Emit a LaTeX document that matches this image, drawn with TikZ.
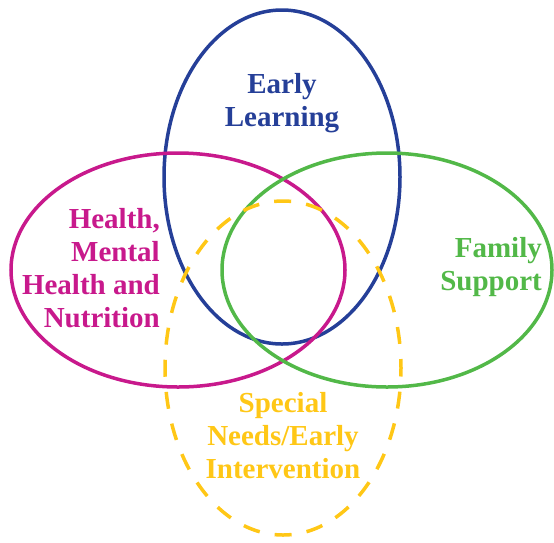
\documentclass[tikz,border=0pt]{standalone}
\usepackage{fontspec}
\setmainfont{Liberation Serif}
\definecolor{elblue}{HTML}{253F98}
\definecolor{hmag}{HTML}{C8198C}
\definecolor{fgreen}{HTML}{52B848}
\definecolor{syellow}{HTML}{FFC716}
\tikzset{
  ring/.style={line width=3.5pt},
  lbl/.style={inner sep=0pt, font=\fontsize{29}{33}\selectfont\bfseries},
}
\begin{document}
\begin{tikzpicture}[x=1pt,y=-1pt]
\useasboundingbox (0,0) rectangle (554,542);
\draw[ring, elblue] (282,177) ellipse [x radius=118, y radius=167];
\draw[ring, hmag] (178,270) ellipse [x radius=167, y radius=117];
\draw[ring, fgreen] (387,270) ellipse [x radius=165, y radius=117];
\draw[ring, syellow, dash pattern=on 17pt off 15.2pt, dash phase=8.5pt] (283,368) ellipse [x radius=118, y radius=167];
\node[lbl, elblue, align=center] (el) at (282,103) {Early\\Learning};
\node[lbl, hmag, align=right, anchor=east] (hm) at (160,268) {Health,\\Mental\\Health and\\Nutrition};
\node[lbl, fgreen, align=right, anchor=east] (fs) at (542,267) {Family\\Support};
\node[lbl, syellow, align=center] (sn) at (283,436) {Special\\Needs/Early\\Intervention};
\end{tikzpicture}
\end{document}
